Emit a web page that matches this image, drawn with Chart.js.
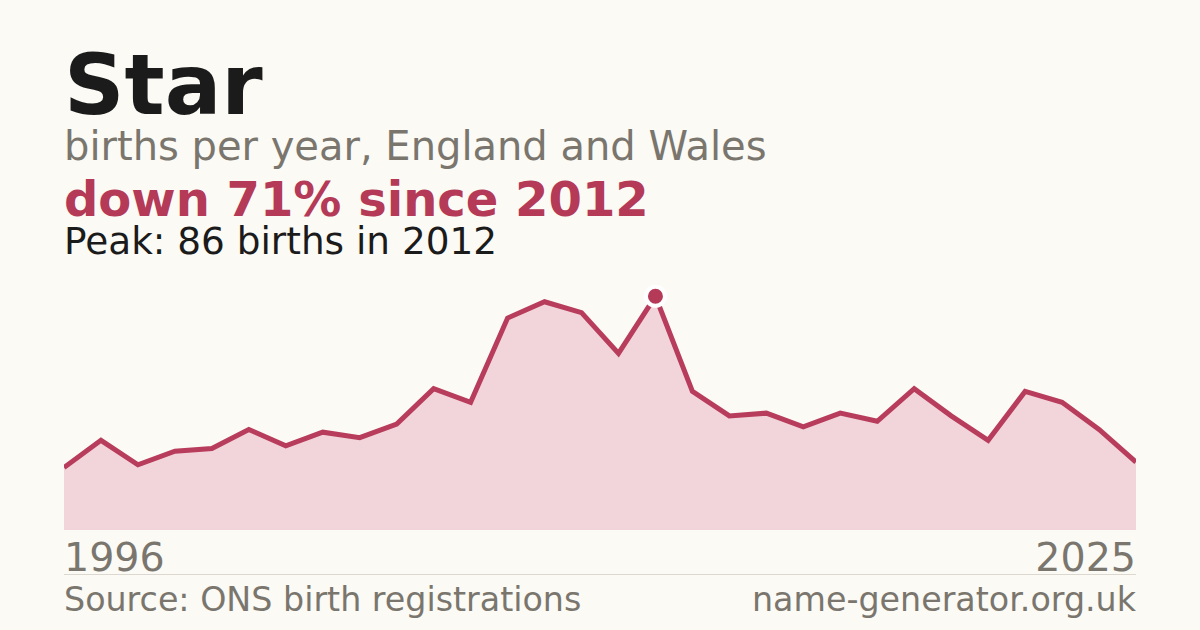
<!DOCTYPE html>
<html>
<head>
<meta charset="utf-8">
<script src="https://cdn.jsdelivr.net/npm/chart.js@4/dist/chart.umd.min.js"></script>
<style>
  html, body { margin:0; padding:0; }
  body { width:1200px; height:630px; background:#fbfaf5; position:relative; overflow:hidden; font-family:"DejaVu Sans", sans-serif; }
  .t { position:absolute; left:64px; white-space:nowrap; line-height:1; }
  #title { top:43px; font-size:84px; font-weight:bold; color:#1b1b1b; }
  #sub { top:126px; font-size:40px; color:#7a766e; }
  #hl { top:175px; font-size:48px; font-weight:bold; color:#b43a58; }
  #peak { top:223px; font-size:37.4px; color:#1b1b1b; }
  #x0 { top:538px; font-size:39.6px; color:#7a766e; }
  #x1 { top:538px; left:auto; right:64px; font-size:39.6px; color:#7a766e; }
  #sep { position:absolute; left:64px; width:1072px; top:574px; height:1px; background:#dcd8d0; }
  #src { top:583px; font-size:33.3px; color:#7a766e; }
  #site { top:583px; left:auto; right:64px; font-size:33.3px; color:#7a766e; }
  #wrap { position:absolute; left:0; top:280px; width:1200px; height:250px; }
</style>
</head>
<body>
<div class="t" id="title">Star</div>
<div class="t" id="sub">births per year, England and Wales</div>
<div class="t" id="hl">down 71% since 2012</div>
<div class="t" id="peak">Peak: 86 births in 2012</div>
<div id="wrap"><canvas id="c"></canvas></div>
<div class="t" id="x0">1996</div>
<div class="t" id="x1">2025</div>
<div id="sep"></div>
<div class="t" id="src">Source: ONS birth registrations</div>
<div class="t" id="site">name-generator.org.uk</div>
<script>
const years = [1996,1997,1998,1999,2000,2001,2002,2003,2004,2005,2006,2007,2008,2009,2010,2011,2012,2013,2014,2015,2016,2017,2018,2019,2020,2021,2022,2023,2024,2025];
const births = [23,33,24,29,30,37,31,36,34,39,52,47,78,84,80,65,86,51,42,43,38,43,40,52,42,33,51,47,37,25];
const peakYear = 2012;

const peakIdx = years.indexOf(peakYear);
const radii = births.map((v,i) => i === peakIdx ? 9.5 : 0);

new Chart(document.getElementById('c'), {
  type: 'line',
  data: {
    labels: years.map(String),
    datasets: [{
      data: births,
      borderColor: '#b83c5c',
      borderWidth: 5,
      backgroundColor: '#f2d5da',
      fill: 'origin',
      tension: 0,
      pointRadius: radii,
      pointHoverRadius: radii,
      pointBackgroundColor: '#b43a58',
      pointBorderColor: '#ffffff',
      pointBorderWidth: 4,
      clip: {left:0, right:0, top:20, bottom:0}
    }]
  },
  options: {
    responsive: true,
    maintainAspectRatio: false,
    animation: false,
    layout: { padding: { left:64, right:64, top:0, bottom:0 } },
    plugins: { legend: { display:false }, tooltip: { enabled:false } },
    scales: {
      x: { display:false, offset:false },
      y: { display:false, min:0, max:92 }
    }
  }
});
</script>
</body>
</html>
